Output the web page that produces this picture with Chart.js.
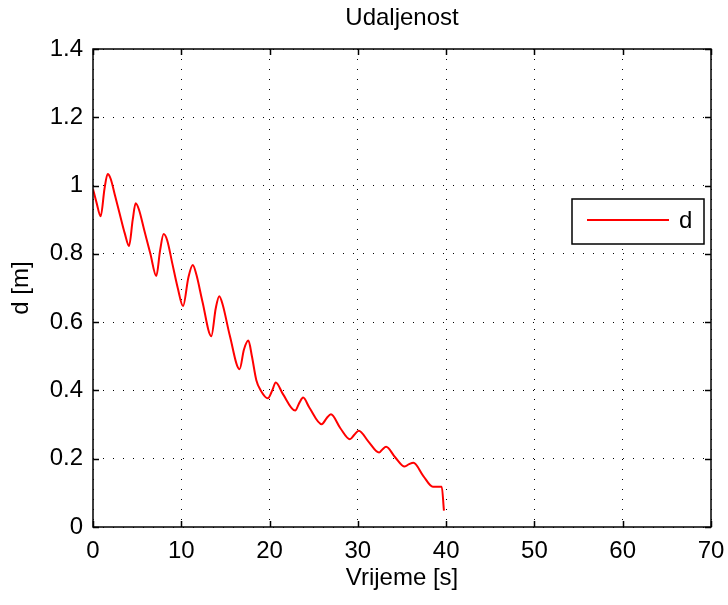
<!DOCTYPE html>
<html>
<head>
<meta charset="utf-8">
<script src="https://cdn.jsdelivr.net/npm/chart.js@4.4.1/dist/chart.umd.min.js"></script>
<style>
  html, body { margin: 0; padding: 0; background: #fff; }
  #wrap { width: 728px; height: 605px; }
</style>
</head>
<body>
<div id="wrap"><canvas id="chartDist" width="728" height="605"></canvas></div>
<script>
// ── DATA ──────────────────────────────────────────────────────────────────────
const timeS = [
  0, 0.4, 0.87, 1.3, 1.66, 2.0, 2.5, 3.0, 3.6, 4.08,
  4.5, 4.83, 5.2, 5.8, 6.5, 7.17, 7.6, 8.0, 8.4, 9.0,
  9.6, 10.2, 10.8, 11.3, 11.7, 12.4, 13.4, 13.9, 14.3, 14.7,
  15.5, 16.6, 17.1, 17.6, 18.0, 18.5, 19.0, 19.8, 20.3, 20.7,
  21.5, 22.9, 23.4, 23.8, 24.5, 25.9, 26.5, 26.95, 28.0, 29.1,
  29.6, 30.1, 31.2, 32.4, 32.8, 33.2, 34.2, 35.3, 35.8, 36.3,
  37.4, 38.5, 39.5, 39.75
];
const distM = [
  0.99, 0.95, 0.91, 0.99, 1.034, 1.02, 0.97, 0.92, 0.86, 0.823,
  0.90, 0.948, 0.93, 0.87, 0.80, 0.735, 0.81, 0.858, 0.84, 0.77,
  0.70, 0.647, 0.73, 0.767, 0.74, 0.66, 0.559, 0.64, 0.676, 0.65,
  0.56, 0.462, 0.52, 0.546, 0.50, 0.43, 0.40, 0.377, 0.40, 0.423,
  0.39, 0.341, 0.365, 0.379, 0.35, 0.301, 0.32, 0.330, 0.29, 0.257,
  0.27, 0.282, 0.25, 0.218, 0.228, 0.235, 0.205, 0.177, 0.184, 0.188,
  0.15, 0.118, 0.118, 0.048
];
const xTicks = [0, 10, 20, 30, 40, 50, 60, 70];
const yTicks = [0, 0.2, 0.4, 0.6, 0.8, 1, 1.2, 1.4];
const chartTitle = 'Udaljenost';

const FONT = 'Liberation Sans, Arial, sans-serif';
const FS = 24;

// ── TITLE, FRAME, INWARD TICKS, LEGEND ────────────────────────────────────────
const matlabFrame = {
  id: 'matlabFrame',
  afterDraw(chart) {
    const { ctx, chartArea: a, scales: { x, y } } = chart;
    ctx.save();

    // title centred over the axes
    ctx.fillStyle = '#000';
    ctx.font = `${FS}px ${FONT}`;
    ctx.textAlign = 'center';
    ctx.textBaseline = 'middle';
    ctx.fillText(chartTitle, (a.left + a.right) / 2, 18);

    ctx.strokeStyle = '#000';
    ctx.lineWidth = 1.5;
    ctx.strokeRect(a.left, a.top, a.right - a.left, a.bottom - a.top);

    const tl = 6;
    ctx.beginPath();
    xTicks.forEach(v => {
      const px = Math.round(x.getPixelForValue(v)) + 0.5;
      ctx.moveTo(px, a.bottom); ctx.lineTo(px, a.bottom - tl);
      ctx.moveTo(px, a.top);    ctx.lineTo(px, a.top + tl);
    });
    yTicks.forEach(v => {
      const py = Math.round(y.getPixelForValue(v)) + 0.5;
      ctx.moveTo(a.left, py);  ctx.lineTo(a.left + tl, py);
      ctx.moveTo(a.right, py); ctx.lineTo(a.right - tl, py);
    });
    ctx.stroke();

    // legend box
    const ds = chart.data.datasets[0];
    const lx = a.right - 139, ly = a.top + 150, lw = 132, lh = 45;
    ctx.fillStyle = '#fff';
    ctx.fillRect(lx, ly, lw, lh);
    ctx.lineWidth = 1.5;
    ctx.strokeRect(lx, ly, lw, lh);
    ctx.strokeStyle = ds.borderColor;
    ctx.lineWidth = 2;
    ctx.beginPath();
    ctx.moveTo(lx + 15, ly + 21); ctx.lineTo(lx + 97, ly + 21);
    ctx.stroke();
    ctx.fillStyle = '#000';
    ctx.textAlign = 'left';
    ctx.fillText(ds.label, lx + 107, ly + 22);
    ctx.restore();
  }
};

// ── CHART ─────────────────────────────────────────────────────────────────────
const ctx = document.getElementById('chartDist').getContext('2d');
new Chart(ctx, {
  type: 'line',
  data: {
    datasets: [{
      label: 'd',
      data: timeS.map((t, i) => ({ x: t, y: distM[i] })),
      borderColor: '#ff0000',
      borderWidth: 2,
      pointRadius: 0,
      cubicInterpolationMode: 'monotone',
      fill: false
    }]
  },
  options: {
    responsive: false,
    animation: false,
    devicePixelRatio: 1,
    layout: { padding: { left: 0, right: 17, top: 49, bottom: 0 } },
    plugins: {
      legend: { display: false },
      tooltip: { enabled: false },
      title: { display: false }
    },
    scales: {
      x: {
        type: 'linear',
        min: 0, max: 70,
        afterBuildTicks: s => { s.ticks = xTicks.map(v => ({ value: v })); },
        afterFit: s => { s.height = 78; s.paddingLeft = 0; s.paddingRight = 0; },
        ticks: { color: '#000', padding: 10, font: { family: FONT, size: FS }, maxRotation: 0 },
        grid: { color: '#000', lineWidth: 1, drawTicks: false },
        border: { display: false, dash: [1, 9] },
        title: {
          display: true, text: 'Vrijeme [s]', color: '#000',
          font: { family: FONT, size: FS }, padding: { top: 0, bottom: 12 }
        }
      },
      y: {
        type: 'linear',
        min: 0, max: 1.4,
        afterBuildTicks: s => { s.ticks = yTicks.map(v => ({ value: v })); },
        afterFit: s => { s.width = 93; s.paddingTop = 0; s.paddingBottom = 0; },
        ticks: {
          color: '#000', padding: 10, font: { family: FONT, size: FS },
          callback: v => String(Math.round(v * 10) / 10)
        },
        grid: { color: '#000', lineWidth: 1, drawTicks: false },
        border: { display: false, dash: [1, 9] },
        title: {
          display: true, text: 'd [m]', color: '#000',
          font: { family: FONT, size: FS }, padding: { top: 7, bottom: 0 }
        }
      }
    }
  },
  plugins: [matlabFrame]
});
</script>
</body>
</html>
